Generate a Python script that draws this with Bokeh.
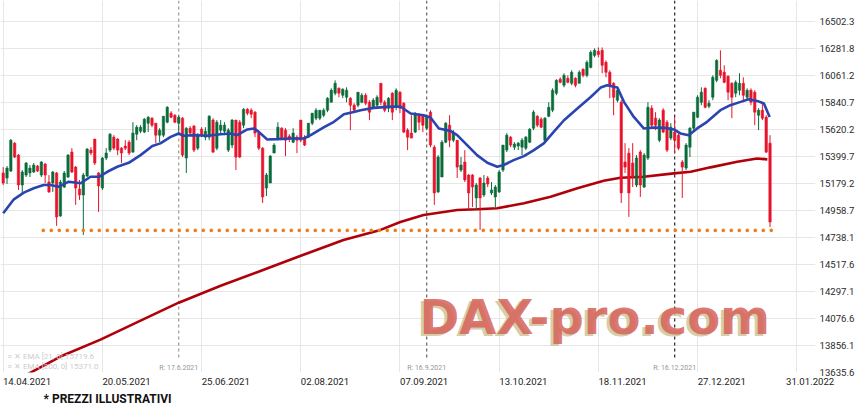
from bokeh.plotting import figure
from bokeh.models import (ColumnDataSource, FixedTicker, PrintfTickFormatter,
                          Label, LabelSet, Range1d, Title)
from bokeh.core.properties import value
from bokeh.embed import file_html
from bokeh.resources import INLINE

# ---------------- data ----------------
x_tick_pos = [0, 26, 52, 78, 104, 130, 156, 182, 208]          # trading-day index
x_tick_labels = ["14.04.2021", "20.05.2021", "25.06.2021", "02.08.2021", "07.09.2021",
                 "13.10.2021", "18.11.2021", "27.12.2021", "31.01.2022"]
y_ticks = [13635.6, 13856.1, 14076.6, 14297.1, 14517.6, 14738.1, 14958.7, 15179.2,
           15399.7, 15620.2, 15840.7, 16061.2, 16281.8, 16502.3]

opens = [15266, 15225, 15282, 15510, 15412, 15168, 15249, 15266, 15274, 15323,
         15249, 15339, 15192, 15184, 15266, 14915, 15151, 15233, 15437, 15314,
         15135, 15086, 15241, 15453, 15543, 15266, 15143, 15388, 15453, 15559,
         15543, 15469, 15486, 15518, 15437, 15583, 15608, 15600, 15673, 15714,
         15673, 15575, 15575, 15681, 15755, 15738, 15673, 15714, 15388, 15632,
         15649, 15469, 15624, 15559, 15559, 15698, 15469, 15616, 15608, 15453,
         15494, 15698, 15681, 15657, 15787, 15779, 15763, 15592, 15469, 15143,
         15184, 15429, 15551, 15632, 15616, 15567, 15518, 15559, 15698, 15559,
         15559, 15673, 15714, 15714, 15738, 15779, 15844, 15918, 15958, 15901,
         15885, 15877, 15820, 15820, 15844, 15901, 15844, 15803, 15820, 15999,
         15844, 15795, 15918, 15803, 15926, 15836, 15616, 15592, 15600, 15738,
         15730, 15632, 15763, 15477, 15111, 15233, 15518, 15657, 15534, 15534,
         15290, 15355, 15249, 15249, 15062, 15225, 15086, 15225, 15103, 15070,
         15111, 15290, 15453, 15559, 15477, 15486, 15477, 15469, 15518, 15632,
         15730, 15706, 15534, 15730, 15779, 15918, 16032, 15983, 16040, 15999,
         16040, 15999, 16113, 16064, 16129, 16227, 16260, 16268, 16170, 16089,
         15999, 15861, 15844, 15355, 15428, 15347, 15168, 15437, 15151, 15388,
         15795, 15714, 15534, 15779, 15681, 15551, 15600, 15575, 15355, 15306,
         15477, 15632, 15722, 15844, 15958, 15812, 15885, 16023, 16105, 16089,
         16056, 15999, 15918, 15942, 15999, 15885, 15942, 15926, 15738, 15779,
         15722, 15510]
highs = [15314, 15323, 15543, 15518, 15420, 15290, 15355, 15331, 15347, 15331,
         15363, 15347, 15249, 15282, 15274, 15209, 15282, 15420, 15469, 15323,
         15209, 15266, 15469, 15477, 15543, 15274, 15396, 15469, 15592, 15575,
         15551, 15477, 15534, 15534, 15681, 15657, 15657, 15714, 15730, 15722,
         15673, 15632, 15730, 15812, 15771, 15746, 15738, 15722, 15640, 15649,
         15657, 15592, 15640, 15640, 15738, 15714, 15698, 15698, 15681, 15632,
         15706, 15698, 15698, 15795, 15795, 15795, 15771, 15600, 15477, 15266,
         15412, 15510, 15681, 15640, 15632, 15583, 15632, 15575, 15698, 15575,
         15673, 15755, 15795, 15779, 15795, 15885, 15958, 16023, 15966, 15958,
         15966, 15885, 15836, 15926, 15918, 15918, 15861, 15877, 15901, 15999,
         15861, 15885, 15926, 15958, 15934, 15844, 15632, 15738, 15763, 15755,
         15738, 15738, 15779, 15494, 15412, 15534, 15681, 15738, 15616, 15534,
         15396, 15453, 15257, 15257, 15184, 15233, 15249, 15241, 15192, 15168,
         15290, 15494, 15592, 15567, 15518, 15518, 15551, 15567, 15632, 15779,
         15738, 15722, 15722, 15844, 15958, 16032, 16048, 16081, 16064, 16105,
         16048, 16105, 16121, 16186, 16268, 16284, 16292, 16292, 16186, 16105,
         16007, 15958, 15861, 15510, 15469, 15510, 15412, 15453, 15429, 15844,
         15820, 15763, 15714, 15795, 15698, 15673, 15722, 15592, 15371, 15510,
         15640, 15763, 15901, 15966, 15966, 15861, 16064, 16195, 16268, 16146,
         16064, 16007, 16023, 16081, 16048, 15958, 15958, 15942, 15795, 15836,
         15738, 15575]
lows = [15168, 15176, 15274, 15388, 15127, 15094, 15233, 15233, 15266, 15274,
        15233, 15184, 15103, 15111, 14834, 14907, 15143, 15225, 15266, 15005,
        15046, 14760, 15233, 15412, 15331, 14948, 15127, 15371, 15437, 15453,
        15412, 15347, 15453, 15412, 15429, 15534, 15592, 15592, 15600, 15640,
        15510, 15518, 15559, 15673, 15714, 15673, 15592, 15396, 15266, 15575,
        15437, 15453, 15559, 15534, 15534, 15429, 15453, 15592, 15575, 15437,
        15469, 15290, 15388, 15632, 15738, 15714, 15559, 15453, 15021, 15078,
        15184, 15429, 15534, 15534, 15404, 15518, 15510, 15429, 15518, 15486,
        15551, 15657, 15698, 15698, 15722, 15763, 15844, 15901, 15885, 15877,
        15844, 15616, 15763, 15803, 15836, 15820, 15698, 15795, 15803, 15820,
        15763, 15763, 15698, 15779, 15755, 15592, 15453, 15551, 15592, 15616,
        15600, 15616, 15477, 15005, 15103, 15233, 15510, 15477, 15518, 15225,
        15274, 15192, 14964, 14988, 14964, 14801, 15070, 15151, 15086, 14988,
        15103, 15274, 15437, 15477, 15453, 15453, 15412, 15453, 15510, 15616,
        15640, 15632, 15518, 15722, 15763, 15901, 15999, 15966, 15999, 15983,
        15966, 15999, 16048, 16048, 16121, 16211, 16211, 16081, 16048, 15877,
        15738, 15844, 15021, 15266, 14907, 15151, 15151, 15070, 15143, 15371,
        15640, 15616, 15518, 15592, 15437, 15534, 15429, 15453, 15062, 15290,
        15396, 15616, 15714, 15820, 15795, 15795, 15861, 16007, 16040, 15999,
        15861, 15714, 15885, 15901, 15844, 15861, 15820, 15657, 15616, 15698,
        15429, 14825]
closes = [15184, 15306, 15534, 15396, 15168, 15274, 15347, 15306, 15331, 15282,
          15355, 15249, 15111, 15274, 14907, 15192, 15266, 15412, 15274, 15143,
          15086, 15249, 15461, 15429, 15347, 15160, 15388, 15429, 15583, 15469,
          15453, 15429, 15469, 15429, 15592, 15640, 15640, 15706, 15722, 15657,
          15575, 15616, 15730, 15803, 15722, 15681, 15722, 15412, 15632, 15592,
          15453, 15575, 15575, 15608, 15730, 15437, 15681, 15657, 15657, 15616,
          15698, 15396, 15396, 15787, 15755, 15746, 15592, 15469, 15070, 15249,
          15404, 15494, 15640, 15543, 15534, 15543, 15592, 15534, 15534, 15494,
          15673, 15755, 15779, 15779, 15779, 15877, 15942, 15999, 15918, 15950,
          15942, 15820, 15779, 15926, 15901, 15836, 15763, 15861, 15885, 15844,
          15779, 15877, 15763, 15942, 15795, 15600, 15559, 15551, 15755, 15681,
          15657, 15722, 15494, 15103, 15396, 15518, 15673, 15534, 15600, 15314,
          15331, 15209, 15103, 15151, 15168, 15062, 15184, 15176, 15127, 15151,
          15274, 15494, 15575, 15494, 15502, 15510, 15534, 15559, 15624, 15763,
          15657, 15640, 15714, 15803, 15942, 16023, 16007, 16064, 16007, 16089,
          15983, 16089, 16064, 16170, 16252, 16268, 16235, 16146, 16089, 15983,
          15885, 15942, 15103, 15314, 15103, 15233, 15388, 15168, 15412, 15803,
          15657, 15657, 15698, 15600, 15453, 15640, 15534, 15469, 15314, 15494,
          15632, 15763, 15885, 15926, 15803, 15836, 16048, 16186, 16064, 16007,
          15926, 15885, 16007, 15999, 15901, 15942, 15844, 15763, 15779, 15714,
          15437, 14866]

ema21_x = [0, 2.8, 5.4, 8.0, 10.6, 12.4, 14.6, 17.2, 20.3, 22.9,
           25.1, 27.3, 29.9, 32.9, 36.0, 39.1, 41.2, 43.9, 46.0, 47.3,
           50.0, 53.5, 57.0, 59.6, 61.3, 64.0, 65.7, 67.0, 69.2, 71.8,
           75.3, 78.8, 80.6, 84.0, 86.7, 89.3, 91.9, 93.7, 97.1, 100.7,
           104.1, 106.8, 110.2, 112.0, 114.2, 117.2, 119.0, 121.6, 124.2, 126.9,
           129.5, 131.2, 133.8, 136.5, 139.1, 141.7, 144.3, 147.0, 150.5, 154.0,
           156.6, 158.3, 161.0, 162.7, 165.3, 167.9, 170.5, 173.2, 175.8, 177.5,
           179.7, 181.9, 184.5, 188.0, 190.6, 193.3, 195.4, 197.6, 199.4, 200.9]
ema21_y = [14937, 15051, 15105, 15141, 15168, 15168, 15154, 15195, 15182, 15235,
           15235, 15276, 15317, 15349, 15412, 15486, 15508, 15561, 15589, 15570,
           15575, 15570, 15583, 15589, 15575, 15622, 15630, 15602, 15540, 15543,
           15548, 15548, 15575, 15638, 15684, 15746, 15765, 15779, 15798, 15806,
           15809, 15752, 15738, 15720, 15630, 15610, 15575, 15494, 15412, 15349,
           15317, 15331, 15371, 15404, 15453, 15508, 15602, 15697, 15793, 15887,
           15964, 15983, 15964, 15847, 15724, 15630, 15638, 15635, 15622, 15589,
           15575, 15630, 15684, 15779, 15820, 15847, 15869, 15855, 15834, 15724]

ema200_x = [4.5, 15.0, 25.5, 36.0, 46.0, 57.0, 66.9, 78.0, 89.2, 98.9,
            104.1, 110.2, 119.0, 124.2, 129.5, 136.5, 143.5, 150.5, 157.4, 161.8,
            167.9, 175.8, 180.2, 185.4, 192.4, 197.6, 200.3]
ema200_y = [13590, 13766, 13904, 14059, 14206, 14345, 14459, 14589, 14719, 14801,
            14866, 14923, 14964, 14970, 14978, 15019, 15072, 15141, 15203, 15227,
            15235, 15263, 15276, 15312, 15358, 15385, 15377]

support_level = 14797
support_span = [10.5, 203.0]

release_idx = [46, 111, 176]
release_labels = ["R: 17.6.2021", "R: 16.9.2021", "R: 16.12.2021"]
release_colors = ["#a3a396", "#6e6e6e", "#333333"]

legend_texts = ["\u2261 \u2715 EMA [21, 0] 15719.6", "\u2261 \u2715 EMA [200, 0] 15371.0"]
footnote = "* PREZZI ILLUSTRATIVI"

# ---------------- styling ----------------
UP = "#0b6b3b"
DOWN = "#e8142c"
FONT = "Roboto"
TOP, BOTTOM = 16675.5, 13635.6

p = figure(width=858, height=405, output_backend="svg", toolbar_location=None,
           x_range=Range1d(-0.708, 212.92), y_range=Range1d(BOTTOM, TOP),
           x_axis_location="below", y_axis_location="right",
           min_border_left=0, min_border_top=0, min_border_right=43, min_border_bottom=32,
           background_fill_color="white", border_fill_color="white",
           outline_line_color=None)

# right price axis
yax = p.yaxis[0]
yax.ticker = FixedTicker(ticks=y_ticks)
yax.formatter = PrintfTickFormatter(format="%.1f")
yax.axis_line_color = None
yax.major_tick_line_color = None
yax.minor_tick_line_color = None
yax.major_tick_out = 0
yax.major_label_standoff = 4
yax.major_label_text_font = FONT
yax.major_label_text_font_size = "9.6px"
yax.major_label_text_color = "#2b2b2b"


# date axis: each date starts at its grid line.  The first label is centred half a
# label to the right of its line; the others are padded with invisible
# figure/punctuation spaces so that the centred text starts at the line.
def left_pad(s):
    pad = "".join("\u2007" if ch.isdigit() else "\u2008" for ch in s)
    return pad + s


FIRST_SHIFT = 6.25
lab_ticks = [x_tick_pos[0] + FIRST_SHIFT] + x_tick_pos[1:]
overrides = {lab_ticks[0]: x_tick_labels[0]}
overrides.update({t: left_pad(l) for t, l in zip(x_tick_pos[1:], x_tick_labels[1:])})
# the last date sits next to the price scale: balance it with extra trailing space
overrides[x_tick_pos[-1]] = left_pad(x_tick_labels[-1]) + "\u2007" * 4

xax = p.xaxis[0]
xax.ticker = FixedTicker(ticks=lab_ticks)
xax.major_label_overrides = overrides
xax.axis_line_color = None
xax.major_tick_line_color = None
xax.minor_tick_line_color = None
xax.major_tick_out = 0
xax.major_label_standoff = 3
xax.major_label_text_font = FONT
xax.major_label_text_font_size = "9.6px"
xax.major_label_text_color = "#222222"

p.xgrid[0].ticker = FixedTicker(ticks=x_tick_pos)
for g in (p.xgrid[0], p.ygrid[0]):
    g.grid_line_color = "#e6e6e6"
    g.grid_line_width = 1

p.add_layout(Title(text=footnote, align="left", offset=43, standoff=0,
                   text_font=FONT, text_font_size="12px", text_font_style="bold",
                   text_color="#111111"), "below")

# watermark
wm_x, wm_y = 109.1, 14092
p.add_layout(Label(x=wm_x, y=wm_y, x_offset=-3, y_offset=-2, text="DAX-pro.com",
                   text_font="DejaVu Sans", text_font_style="bold",
                   text_font_size="48px", text_color="#cfc6a0", text_alpha=0.9,
                   text_baseline="middle"))
p.add_layout(Label(x=wm_x, y=wm_y, text="DAX-pro.com",
                   text_font="DejaVu Sans", text_font_style="bold",
                   text_font_size="48px", text_color="#d8675d", text_alpha=0.9,
                   text_baseline="middle"))

# release lines
p.segment(x0=release_idx, y0=[TOP] * 3, x1=release_idx, y1=[13741] * 3,
          line_color=release_colors, line_width=1.3, line_dash="3 3")
rel_src = ColumnDataSource(dict(x=release_idx, y=[13672] * 3, text=release_labels))
p.add_layout(LabelSet(x="x", y="y", text="text", source=rel_src, text_align="center",
                      text_baseline="middle", text_font=value(FONT),
                      text_font_size="7px", text_color="#8f9999"))

# EMA 200
p.line(ema200_x, ema200_y, line_color="#b0000a", line_width=2.6)

# candles
n = len(opens)
src = ColumnDataSource(dict(
    x=list(range(n)),
    high=highs, low=lows,
    top=[max(o, c) for o, c in zip(opens, closes)],
    bottom=[min(o, c) for o, c in zip(opens, closes)],
    color=[UP if c >= o else DOWN for o, c in zip(opens, closes)],
))
p.segment(x0="x", y0="high", x1="x", y1="low", line_color="color", line_width=1, source=src)
p.vbar(x="x", width=0.62, top="top", bottom="bottom", fill_color="color",
       line_color="color", line_width=0.6, source=src)

# EMA 21
p.line(ema21_x, ema21_y, line_color="#2a44b0", line_width=2.6)

# support dotted line
p.line(support_span, [support_level, support_level], line_color="#f07d16",
       line_width=3.6, line_dash="0 8", line_cap="round")

# legend texts (faint)
p.add_layout(Label(x=1.1, y=13766, text=legend_texts[0], text_font=FONT,
                   text_font_size="8px", text_color="#cdcdcd", text_baseline="middle"))
p.add_layout(Label(x=1.1, y=13684, text=legend_texts[1], text_font=FONT,
                   text_font_size="8px", text_color="#cdcdcd", text_baseline="middle"))

open("out.html", "w").write(file_html(p, INLINE))
